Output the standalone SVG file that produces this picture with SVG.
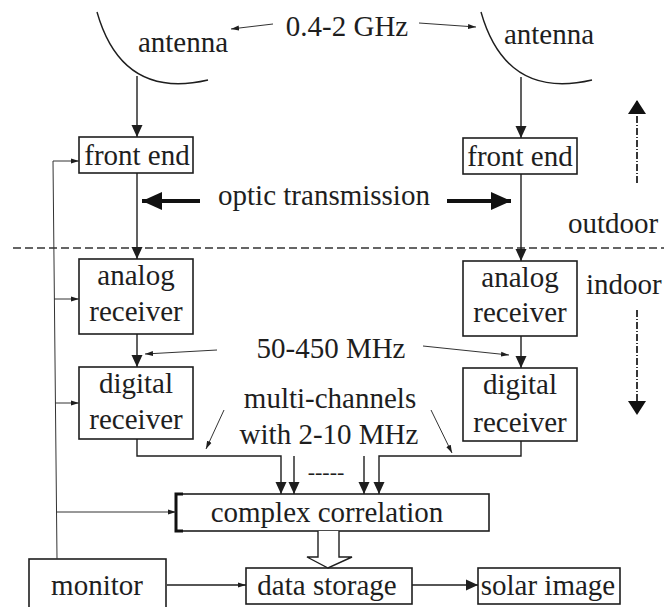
<svg xmlns="http://www.w3.org/2000/svg" width="664" height="607" viewBox="0 0 664 607">
<defs>
<style>
text{font-family:'Liberation Serif','Tinos','Times New Roman','Times','DejaVu Serif',serif;font-size:29px;fill:#1e1e1e}
.c{text-anchor:middle}
.box{fill:none;stroke:#1e1e1e;stroke-width:1.6}
.ln{fill:none;stroke:#1e1e1e;stroke-width:1.4}
.th{fill:none;stroke:#333;stroke-width:1}
</style>
<marker id="ah" markerWidth="12" markerHeight="12" viewBox="0 0 12 12" refX="12" refY="6" orient="auto" markerUnits="userSpaceOnUse">
<path d="M0,0.5 L12,6 L0,11.5 Z" fill="#1e1e1e"/>
</marker>
<marker id="as" markerWidth="8" markerHeight="6" viewBox="0 0 8 6" refX="8" refY="3" orient="auto" markerUnits="userSpaceOnUse">
<path d="M0,0.5 L8,3 L0,5.5 Z" fill="#1e1e1e"/>
</marker>
<marker id="ab" markerWidth="20" markerHeight="18" viewBox="0 0 20 18" refX="20" refY="9" orient="auto" markerUnits="userSpaceOnUse">
<path d="M0,0 L20,9 L0,18 Z" fill="#111"/>
</marker>
<marker id="ad" markerWidth="14" markerHeight="20" viewBox="0 0 14 20" refX="14" refY="10" orient="auto" markerUnits="userSpaceOnUse">
<path d="M0,1 L14,10 L0,19 Z" fill="#111"/>
</marker>
</defs>
<rect width="664" height="607" fill="#fff"/>

<g id="antenna-left">
<path class="ln" d="M97,12 Q122,100 208,80"/>
<text class="c" x="183" y="52" font-family="Liberation Serif, serif">antenna</text>
</g>
<g id="antenna-right">
<path class="ln" d="M481,12 Q506,100 592,80"/>
<text class="c" x="549" y="44">antenna</text>
</g>
<g id="freq-label">
<text class="c" x="347" y="36">0.4-2 GHz</text>
</g>
<g id="frontend-left">
<rect class="box" x="79" y="137" width="114" height="36"/>
<text class="c" x="137" y="165">front end</text>
</g>
<g id="frontend-right">
<rect class="box" x="463" y="138" width="114" height="36"/>
<text class="c" x="520" y="166">front end</text>
</g>
<g id="optic-label">
<text class="c" x="324" y="205">optic transmission</text>
</g>
<g id="zones">
<line x1="13" y1="248" x2="664" y2="248" stroke="#333" stroke-width="1.3" stroke-dasharray="8,4"/>
<text x="568" y="233">outdoor</text>
<text x="586" y="294">indoor</text>
</g>
<g id="analog-left">
<rect class="box" x="79" y="259" width="114" height="75"/>
<text class="c" x="136" y="285">analog</text>
<text class="c" x="136" y="321">receiver</text>
</g>
<g id="analog-right">
<rect class="box" x="463" y="261" width="114" height="75"/>
<text class="c" x="520" y="287">analog</text>
<text class="c" x="520" y="322">receiver</text>
</g>
<g id="if-label">
<text class="c" x="331" y="358">50-450 MHz</text>
</g>
<g id="digital-left">
<rect class="box" x="79" y="367" width="114" height="72"/>
<text class="c" x="136" y="393">digital</text>
<text class="c" x="136" y="429">receiver</text>
</g>
<g id="digital-right">
<rect class="box" x="463" y="368" width="114" height="73"/>
<text class="c" x="520" y="394">digital</text>
<text class="c" x="520" y="432">receiver</text>
</g>
<g id="channels-label">
<text class="c" x="330" y="408">multi-channels</text>
<text class="c" x="329" y="444">with 2-10 MHz</text>
<text class="c" x="326" y="479" style="font-size:22px">-----</text>
</g>
<g id="correlation">
<rect class="box" x="176" y="494" width="313" height="37"/>
<path d="M183,494 L176,494 L176,531 L183,531" fill="none" stroke="#111" stroke-width="3"/>
<text class="c" x="327" y="522">complex correlation</text>
</g>
<g id="monitor">
<rect class="box" x="29" y="559" width="137" height="52"/>
<text class="c" x="97" y="595">monitor</text>
</g>
<g id="data-storage">
<rect class="box" x="246" y="568" width="166" height="36"/>
<text class="c" x="327" y="595">data storage</text>
</g>
<g id="solar-image">
<rect class="box" x="478" y="568" width="142" height="36"/>
<text class="c" x="548" y="595">solar image</text>
</g>

<g id="connectors">
<line class="ln" x1="137" y1="76" x2="137" y2="137" marker-end="url(#ah)"/>
<line class="ln" x1="521" y1="77" x2="521" y2="138" marker-end="url(#ah)"/>
<line class="ln" x1="137" y1="173" x2="137" y2="259" marker-end="url(#ah)"/>
<line class="ln" x1="521" y1="174" x2="521" y2="261" marker-end="url(#ah)"/>
<line class="ln" x1="137" y1="334" x2="137" y2="367" marker-end="url(#ah)"/>
<line class="ln" x1="521" y1="336" x2="521" y2="368" marker-end="url(#ah)"/>
<polyline class="ln" points="137,439 137,456 281,456 281,494" marker-end="url(#ah)"/>
<line class="ln" x1="294" y1="456" x2="294" y2="494" marker-end="url(#ah)"/>
<polyline class="ln" points="521,441 521,456 379,456 379,494" marker-end="url(#ah)"/>
<line class="ln" x1="364" y1="456" x2="364" y2="494" marker-end="url(#ah)"/>
<path d="M318,531 L318,557 L307,557 L328,568 L352,557 L339,557 L339,531" fill="#fff" stroke="#1e1e1e" stroke-width="1.4"/>
<line class="ln" x1="167" y1="585" x2="246" y2="585" marker-end="url(#as)"/>
<line class="ln" x1="412" y1="585" x2="478" y2="585" marker-end="url(#ah)"/>
<polyline class="th" points="57,559 53,161 79,161" marker-end="url(#as)"/>
<line class="th" x1="54" y1="299" x2="79" y2="299" marker-end="url(#as)"/>
<line class="th" x1="55" y1="403" x2="79" y2="403" marker-end="url(#as)"/>
<line class="th" x1="56" y1="512" x2="176" y2="512" marker-end="url(#as)"/>
<line class="th" x1="273" y1="24" x2="231" y2="29" marker-end="url(#as)"/>
<line class="th" x1="419" y1="23" x2="476" y2="27" marker-end="url(#as)"/>
<line class="th" x1="217" y1="350" x2="145" y2="354" marker-end="url(#as)"/>
<line class="th" x1="423" y1="346" x2="509" y2="355" marker-end="url(#as)"/>
<line class="th" x1="224" y1="410" x2="206" y2="449" marker-end="url(#as)"/>
<line class="th" x1="431" y1="410" x2="452" y2="453" marker-end="url(#as)"/>
<line x1="200" y1="201" x2="142" y2="201" stroke="#111" stroke-width="4" marker-end="url(#ab)"/>
<line x1="447" y1="201" x2="511" y2="201" stroke="#111" stroke-width="4" marker-end="url(#ab)"/>
<line x1="637" y1="183" x2="637" y2="100" stroke="#222" stroke-width="1.8" stroke-dasharray="7,2,1,2" marker-end="url(#ad)"/>
<line x1="637" y1="310" x2="637" y2="415" stroke="#222" stroke-width="1.8" stroke-dasharray="7,2,1,2" marker-end="url(#ad)"/>
</g>
</svg>
